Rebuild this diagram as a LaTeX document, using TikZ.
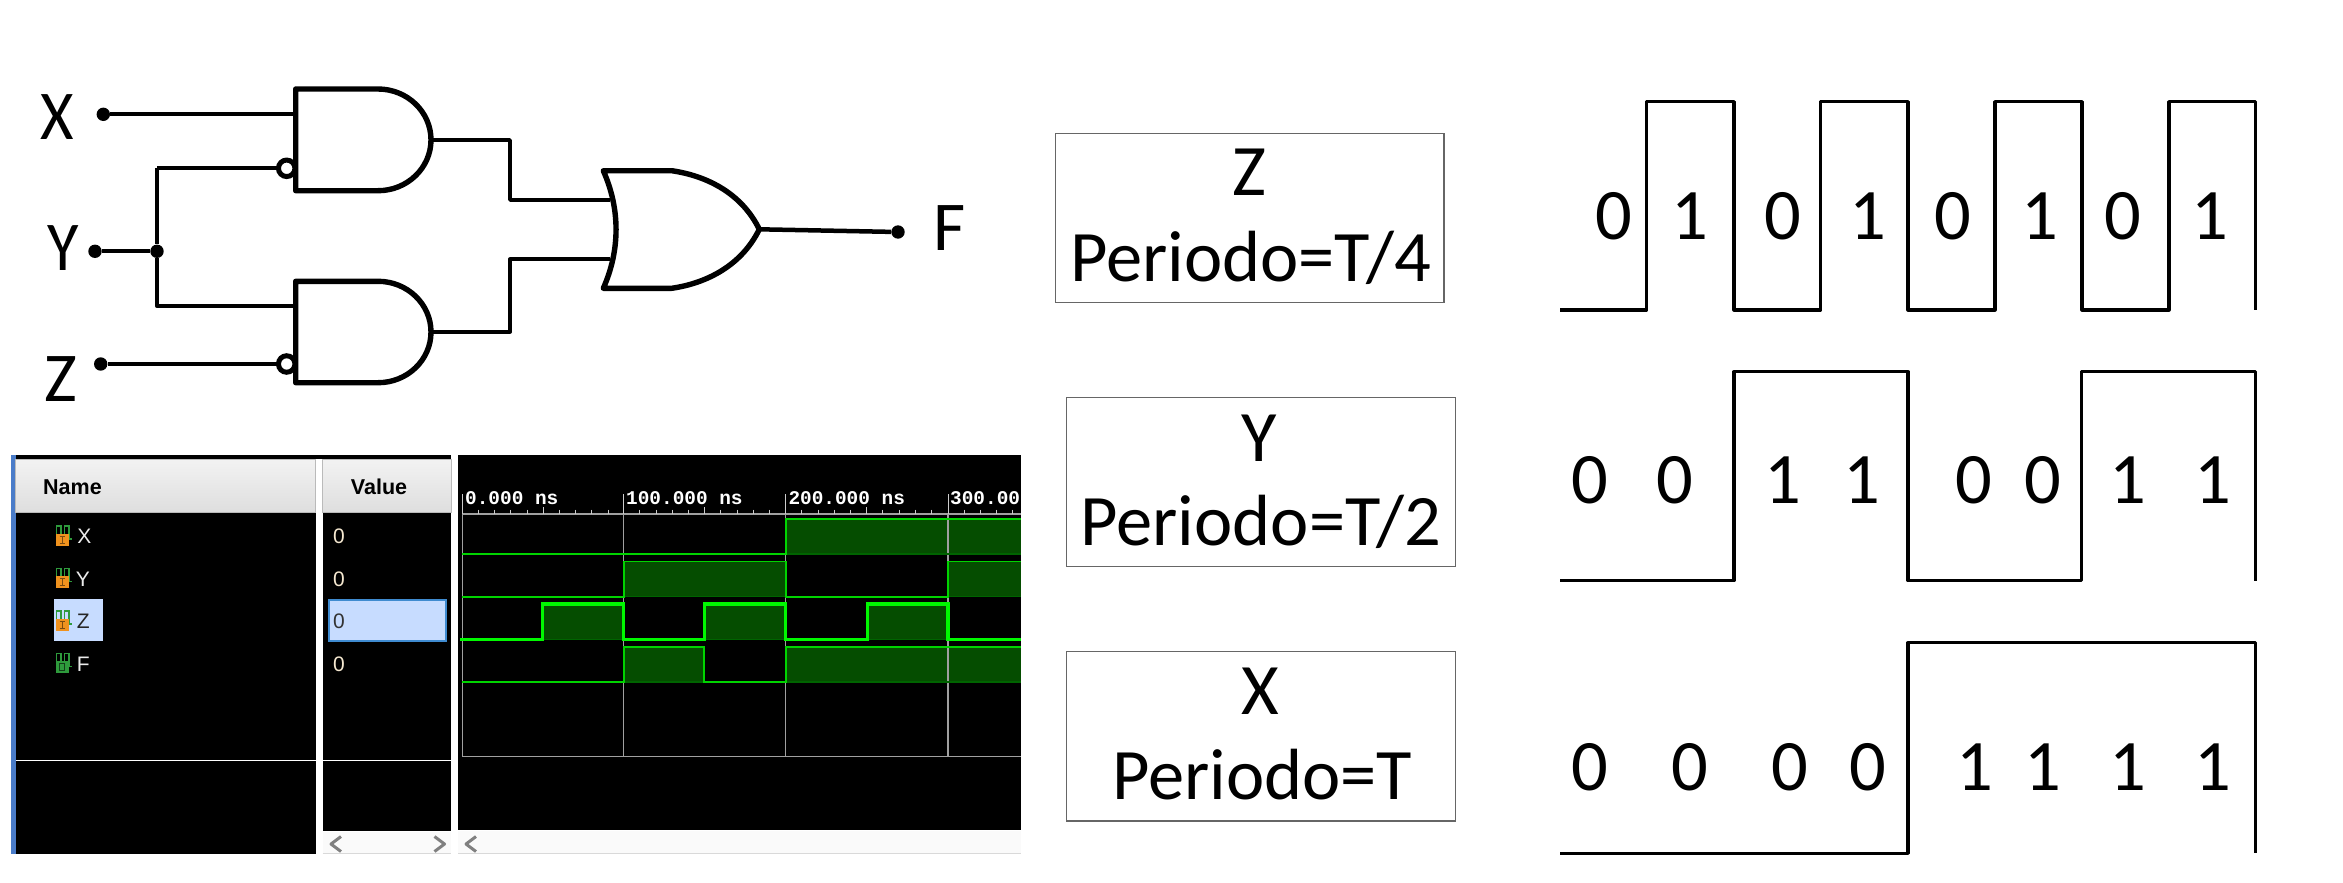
\documentclass[tikz,border=0pt]{standalone}
\usepackage{fontspec}
\setmainfont{Carlito}
\newfontfamily\uifont{Liberation Sans}
\newfontfamily\rulerfont{Liberation Mono}
\definecolor{waveline}{HTML}{00D400}
\definecolor{wavefill}{HTML}{054D00}
\definecolor{wavelow}{HTML}{006400}
\definecolor{zline}{HTML}{00F800}
\definecolor{gridgray}{HTML}{A0A0A0}
\definecolor{selfill}{HTML}{C7DCFF}
\definecolor{selborder}{HTML}{3F8BD0}
\definecolor{ideblue}{HTML}{4A7CC9}
\definecolor{valtext}{HTML}{F5E8D0}
\definecolor{icongreen}{HTML}{2E9A3C}
\definecolor{iconorange}{HTML}{F0921E}
\definecolor{icondark}{HTML}{7A4A10}
\newcommand{\bigfont}{\fontsize{70}{70}\selectfont}
\newcommand{\boxfont}{\fontsize{72.5}{72.5}\selectfont}
\tikzset{
  x=1pt,y=-1pt,
  gateline/.style={draw=black,line width=5.4pt,line join=round,fill=white},
  wire/.style={draw=black,line width=3.8pt,line join=round},
  dot/.style={circle,fill=black,draw=none,minimum size=13.4pt,inner sep=0pt},
  bubble/.style={circle,draw=black,fill=white,line width=5pt,minimum size=16.5pt,inner sep=0pt},
  biglabel/.style={inner sep=0pt,font=\bigfont},
  boxlabel/.style={inner sep=0pt,font=\boxfont},
  perbox/.style={draw=black!60,line width=1.3pt,fill=white},
  pulse/.style={draw=black,line width=3.2pt,line join=round},
  digit/.style={inner sep=0pt,font=\boxfont},
  header/.style={top color=white!95!black,bottom color=black!13,draw=black!27,line width=1pt},
  headtxt/.style={inner sep=0pt,text=black,font=\uifont\bfseries\fontsize{21.5}{22}\selectfont},
  rowtxt/.style={inner sep=0pt,text=white!92!black,font=\uifont\fontsize{21}{22}\selectfont},
  valtxt/.style={inner sep=0pt,text=valtext,font=\uifont\fontsize{21}{22}\selectfont},
  timetxt/.style={inner sep=0pt,anchor=base west,text=white,font=\rulerfont\bfseries\fontsize{19.4}{20}\selectfont},
  gridl/.style={draw=gridgray,line width=1.3pt},
  sig/.style={draw=waveline,line width=1.7pt,line join=miter},
  sigz/.style={draw=zline,line width=3.3pt,line join=miter},
  lowedge/.style={draw=wavelow,line width=1.5pt},
  tick/.style={draw=white!80!black,line width=1pt},
  scrollbar/.style={fill=black!2},
  chevron/.style={draw=black!50,line width=3pt,line join=round},
  inicon/.pic={
    \draw[icongreen,line width=1.3pt] (1,8) -- (1,0) -- (5.5,0) -- (5.5,8);
    \draw[icongreen,line width=1.3pt] (9,8) -- (9,0) -- (13.5,0) -- (13.5,13) -- (16,13);
    \fill[iconorange] (0,7.5) rectangle (13,19.5);
    \draw[icondark,line width=1pt] (4,10) -- (9,10) (6.5,10) -- (6.5,17) (4,17) -- (9,17);
  },
  outicon/.pic={
    \draw[icongreen,line width=1.3pt] (1,8) -- (1,0) -- (5.5,0) -- (5.5,8);
    \draw[icongreen,line width=1.3pt] (9,8) -- (9,0) -- (13.5,0) -- (13.5,13) -- (16,13);
    \fill[icongreen] (0,7.5) rectangle (13,19.5);
    \draw[black!60!icongreen,line width=1pt] (4,10) rectangle (9,17);
  }
}
\begin{document}
\begin{tikzpicture}
\useasboundingbox (0,0) rectangle (2343,883);
\fill[white] (0,0) rectangle (2343,883);

% ---- gates
\newcommand{\andpath}[2]{%
  \draw[gateline] (378,#1) -- (295.7,#1) -- (295.7,#2) -- (378,#2)
    .. controls (407.3,#2) and (431,{(#1+#2)/2+28}) .. (431,{(#1+#2)/2})
    .. controls (431,{(#1+#2)/2-28}) and (407.3,#1) .. (378,#1) -- cycle;}
\coordinate (a1in1) at (295.7,114.3);
\coordinate (a1out) at (431,140);
\coordinate (a2in1) at (295.7,306.3);
\coordinate (a2out) at (431,331.7);
\coordinate (orin1) at (610,200);
\coordinate (orin2) at (610,259.3);
\coordinate (orout) at (759.3,229.3);
\coordinate (jog1) at (510,140);
\coordinate (jog2) at (510,331.7);
\coordinate (y1) at (157,168.3);
\coordinate (y2) at (157,306.3);

\node[dot] (dotX) at (103.3,114.3) {};
\node[dot] (dotY) at (95,251.3) {};
\node[dot] (dotZ) at (100.7,364) {};
\node[dot] (dotF) at (898,232) {};
\node[dot] (junc) at (157,251.3) {};

\draw[wire] (dotX) -- (a1in1);
\draw[wire] (dotY) -- (junc);
\draw[wire] (y1) -- (junc) -- (y2) -- (a2in1);
\draw[wire] (dotZ) -- (280,364);
\draw[wire] (y1) -- (280,168.3);
\draw[wire] (a1out) -- (jog1) |- (orin1);
\draw[wire] (a2out) -- (jog2) |- (orin2);
\draw[wire,line width=4.5pt] (orout) -- (dotF);

\andpath{89}{190.7}
\andpath{281.3}{382.7}
\node[bubble] (bub1) at (286.7,168.3) {};
\node[bubble] (bub2) at (286.7,364) {};
\draw[gateline,fill=white] (603.3,170.7) -- (671.7,170.7)
  .. controls (708,176) and (742,194) .. (orout)
  .. controls (742,264.6) and (708,283) .. (671.7,288.3)
  -- (603.3,288.3) .. controls (620.3,250) and (620.3,209) .. (603.3,170.7) -- cycle;

\node[biglabel] (lblX) at (57.3,117.3) {\scalebox{.92}[1]{X}};
\node[biglabel] (lblY) at (63.3,248.3) {\scalebox{.92}[1]{Y}};
\node[biglabel] (lblZ) at (61,379) {Z};
\node[biglabel] (lblF) at (949.3,227.7) {F};

% ---- period boxes
\node[perbox,minimum width=388.6pt,minimum height=169.3pt,anchor=north west,inner sep=0pt] (boxZ) at (1054.7,132.7) {};
\node[perbox,minimum width=389.2pt,minimum height=169.3pt,anchor=north west,inner sep=0pt] (boxY) at (1065.8,396.5) {};
\node[perbox,minimum width=389.2pt,minimum height=169.3pt,anchor=north west,inner sep=0pt] (boxX) at (1065.8,651) {};
\node[boxlabel] (nZ) at (1249,172.7) {Z};
\node[boxlabel,anchor=base] (pZ) at (1250.7,281.7) {Periodo=T/4};
\node[boxlabel] (nY) at (1259,438) {Y};
\node[boxlabel,anchor=base] (pY) at (1261,545.5) {Periodo=T/2};
\node[boxlabel] (nX) at (1260,691) {X};
\node[boxlabel,anchor=base] (pX) at (1262,799) {Periodo=T};

% ---- pulses
\draw[pulse] (1560,310) -- (1646.7,310) -- (1646.7,101.7) -- (1734,101.7) -- (1734,310) -- (1820.7,310) -- (1820.7,101.7) -- (1908,101.7) -- (1908,310) -- (1995,310) -- (1995,101.7) -- (2082,101.7) -- (2082,310) -- (2169,310) -- (2169,101.7) -- (2255.5,101.7) -- (2255.5,310);
\draw[pulse] (1560,580.5) -- (1734,580.5) -- (1734,371.7) -- (1908,371.7) -- (1908,580.5) -- (2081.7,580.5) -- (2081.7,371.7) -- (2255.5,371.7) -- (2255.5,580.5);
\draw[pulse] (1560,853.3) -- (1908,853.3) -- (1908,642.7) -- (2255.5,642.7) -- (2255.5,853.3);

\foreach \d/\xx [count=\i] in {0/1614,1/1690,0/1782.5,1/1868,0/1953,1/2040,0/2123,1/2210}
  \node[digit] (dz\i) at (\xx,216) {\d};
\foreach \d/\xx [count=\i] in {0/1590,0/1675,1/1782.7,1/1861.7,0/1974,0/2042.7,1/2127.7,1/2212.7}
  \node[digit] (dy\i) at (\xx,480.5) {\d};
\foreach \d/\xx [count=\i] in {0/1590,0/1690,0/1790,0/1868,1/1975,1/2043,1/2127.7,1/2212.7}
  \node[digit] (dx\i) at (\xx,767) {\d};

% ---- simulator: name and value panes
\fill[ideblue] (11.3,455) rectangle (15.7,854.3);
\fill[black] (15.7,455) rectangle (451,459);
\fill[black] (15.7,513) rectangle (315.7,854.3);
\fill[black] (322.7,513) rectangle (451,831);
\shade[header] (15.7,459) rectangle (315.7,512.7);
\shade[header] (322.7,459) rectangle (451,512.7);
\draw[white,line width=1pt] (15.7,760.3) -- (315.7,760.3);
\draw[white,line width=1pt] (322.7,760.3) -- (451,760.3);
\fill[scrollbar] (322.7,831.5) rectangle (451,854);
\draw[black!15,line width=1pt] (322.7,853.6) -- (451,853.6);
\draw[chevron] (341,836.5) -- (331,844) -- (341,851.5);
\draw[chevron] (434.5,836.5) -- (444.5,844) -- (434.5,851.5);
\node[headtxt] (hName) at (72.5,487) {Name};
\node[headtxt] (hValue) at (379,487) {Value};

\fill[selfill] (54.3,598.7) rectangle (102.7,641.3);
\draw[selborder,line width=2pt,fill=selfill] (328.5,599.5) rectangle (445.5,641);

\pic at (55.5,526) {inicon};
\pic at (55.5,568.5) {inicon};
\pic at (55.5,611) {inicon};
\pic at (55.5,653.5) {outicon};

\node[rowtxt] (rX) at (84.3,536.7) {X};
\node[rowtxt] (rY) at (83,579) {Y};
\node[rowtxt,text=black!85] (rZ) at (83.3,621.7) {Z};
\node[rowtxt] (rF) at (83.3,664) {F};
\node[valtxt] (vX) at (339,536.7) {0};
\node[valtxt] (vY) at (339,579) {0};
\node[valtxt,text=black!80] (vZ) at (339,621.7) {0};
\node[valtxt] (vF) at (339,664) {0};

% ---- simulator: wave pane
\fill[black] (458,455) rectangle (1021,830);
\fill[scrollbar] (458,830.5) rectangle (1021,854);
\draw[black!15,line width=1pt] (458,853.6) -- (1021,853.6);
\draw[chevron] (476,836.5) -- (466,844) -- (476,851.5);

% fills
\fill[wavefill] (785.7,519) rectangle (1021,554);
\fill[wavefill] (623.7,561.5) rectangle (785.7,596.7);
\fill[wavefill] (948,561.5) rectangle (1021,596.7);
\fill[wavefill] (542.4,604) rectangle (623.7,639.3);
\fill[wavefill] (704.3,604) rectangle (785.7,639.3);
\fill[wavefill] (867.3,604) rectangle (948,639.3);
\fill[wavefill] (623.7,646.8) rectangle (704.3,682);
\fill[wavefill] (785.7,646.8) rectangle (1021,682);

% grid
\draw[gridl] (1021,514) -- (462.3,514) -- (462.3,756.7) -- (1021,756.7);
\foreach \gx in {623.7,785.7,948} \draw[gridl] (\gx,514) -- (\gx,756.7);
\foreach \gx in {462.3,623.7,785.7,948} \draw[tick] (\gx,494) -- (\gx,514);
\foreach \k in {1,...,9} {
  \foreach \gx in {462.3,623.7,785.7} {
    \pgfmathsetmacro{\tx}{\gx+16.2*\k}
    \ifnum\k=5 \draw[tick] (\tx,507) -- (\tx,514); \else \draw[tick] (\tx,509.5) -- (\tx,514); \fi
  }
}
\foreach \k in {1,...,4} {
  \pgfmathsetmacro{\tx}{948+16.2*\k}
  \draw[tick] (\tx,509.5) -- (\tx,514);
}
\node[timetxt] (t0) at (465,504.3) {0.000 ns};
\node[timetxt] (t1) at (626,504.3) {100.000 ns};
\node[timetxt] (t2) at (788.3,504.3) {200.000 ns};
\node[timetxt] (t3) at (950,504.3) {300.00};

% signals
\draw[lowedge] (785.7,554) -- (1021,554);
\draw[lowedge] (623.7,596.7) -- (785.7,596.7);
\draw[lowedge] (948,596.7) -- (1021,596.7);
\draw[lowedge] (623.7,682) -- (704.3,682);
\draw[lowedge] (785.7,682) -- (1021,682);
\draw[lowedge] (542.4,639.3) -- (623.7,639.3);
\draw[lowedge] (704.3,639.3) -- (785.7,639.3);
\draw[lowedge] (867.3,639.3) -- (948,639.3);
\draw[sig] (462.3,554) -- (785.7,554) -- (785.7,519) -- (1021,519);
\draw[sig] (462.3,596.7) -- (623.7,596.7) -- (623.7,561.5) -- (785.7,561.5) -- (785.7,596.7) -- (948,596.7) -- (948,561.5) -- (1021,561.5);
\draw[sig] (462.3,682) -- (623.7,682) -- (623.7,646.8) -- (704.3,646.8) -- (704.3,682) -- (785.7,682) -- (785.7,646.8) -- (1021,646.8);
\draw[sigz] (460,639.3) -- (542.4,639.3) -- (542.4,604) -- (623.7,604) -- (623.7,639.3) -- (704.3,639.3) -- (704.3,604) -- (785.7,604) -- (785.7,639.3) -- (867.3,639.3) -- (867.3,604) -- (948,604) -- (948,639.3) -- (1021,639.3);
\end{tikzpicture}
\end{document}
